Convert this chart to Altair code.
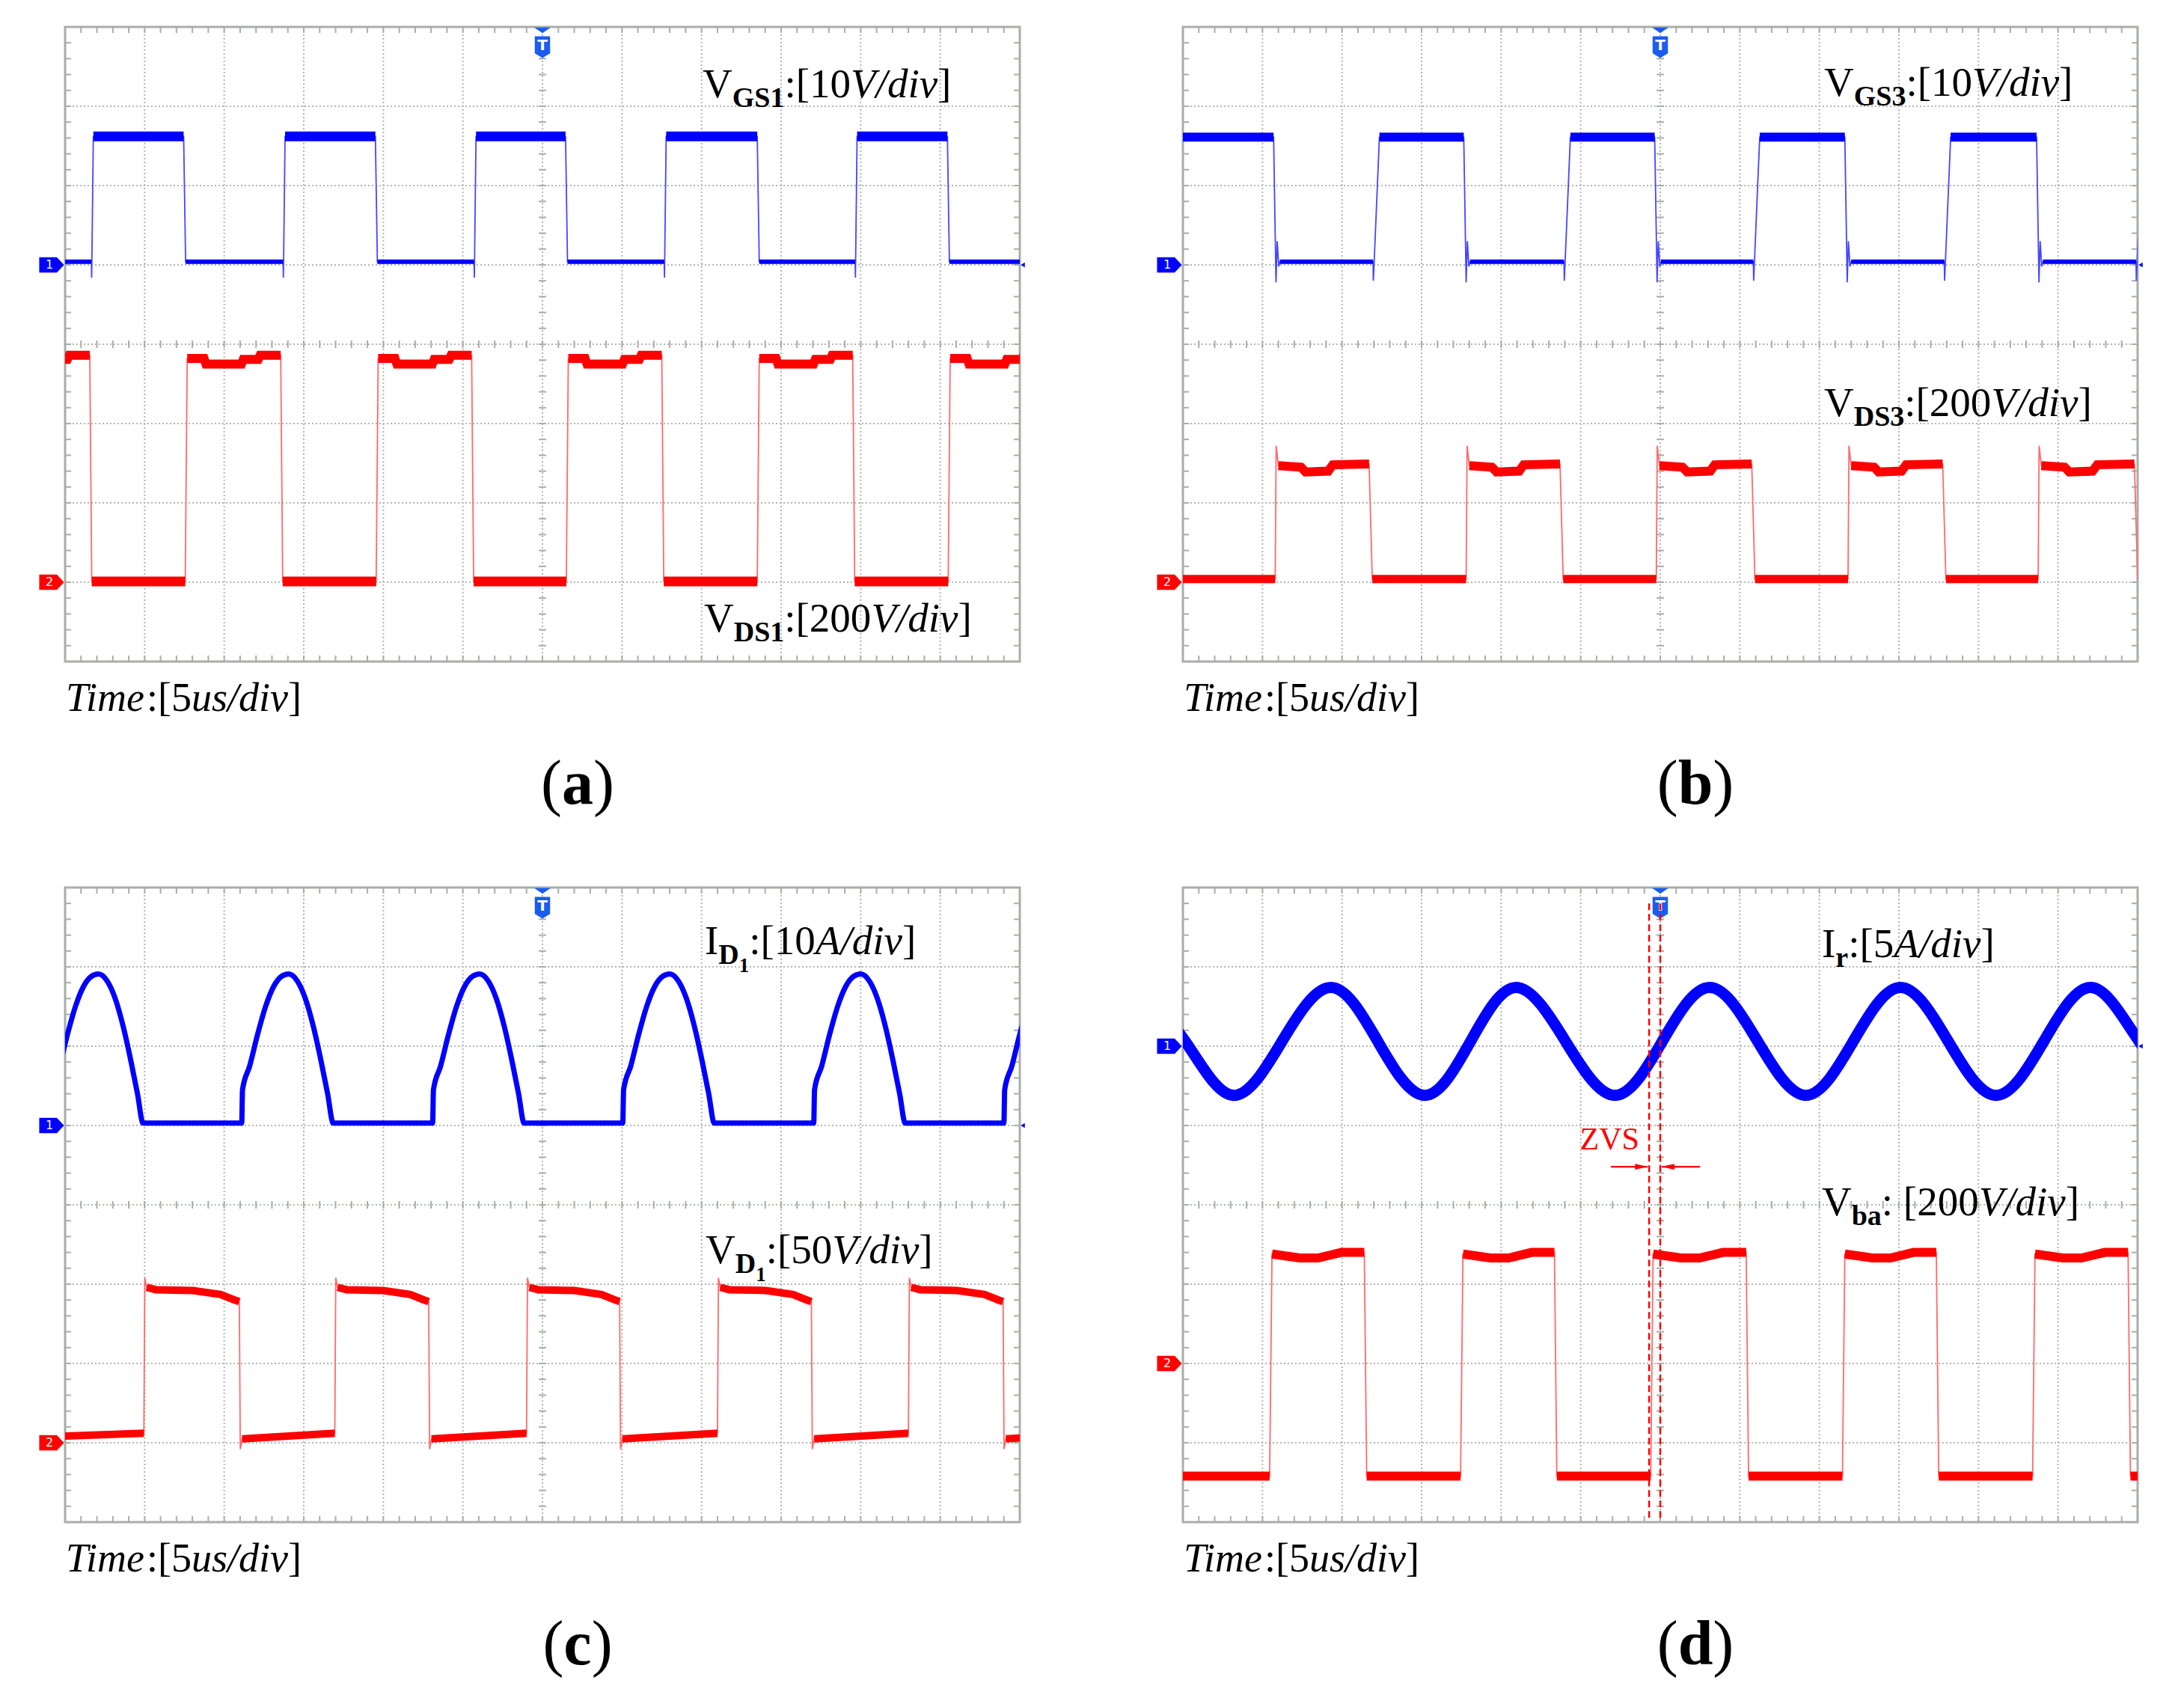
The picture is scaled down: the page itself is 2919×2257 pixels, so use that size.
import altair as alt
import numpy as np
import pandas as pd

W, H = 1276, 848
XMAX, YMAX = 12, 8
BLUE, RED = "#0000ff", "#ff0000"
BLUE_EDGE, RED_EDGE = "#4646ff", "#ff6a6a"
GRID, FRAME = "#b2b7b2", "#a8aea8"
SERIF = "Liberation Serif"

# ---------------- values (units: divisions, x 0-12, y 0-8) ----
# panel (a)
a_gs_rise = [0.33, 2.74, 5.14, 7.53, 9.93]
a_gs_fall = [1.49, 3.90, 6.29, 8.70, 11.09]
a_gs_levels = [5.04, 6.62]
a_gs_rise_spike = [4.84]
a_ds_rise = [-0.89, 1.51, 3.91, 6.30, 8.70, 11.10]
a_ds_fall = [0.31, 2.71, 5.11, 7.50, 9.90, 12.31]
a_ds_levels = [1.01, 3.82]
a_ds_high_frac = [0.0, 0.18, 0.20, 0.58, 0.60, 0.76, 0.78, 1.0]
a_ds_high_val = [3.82, 3.82, 3.75, 3.75, 3.81, 3.81, 3.86, 3.86]
a_ch_ground = [5, 1]

# panel (b)
b_gs_rise = [-1.20, 2.39, 4.79, 7.17, 9.57, 11.98]
b_gs_fall = [1.14, 3.53, 5.93, 8.32, 10.73]
b_gs_levels = [5.04, 6.61]
b_gs_fall_ring = [4.78, 5.30, 4.98]
b_gs_rise_spike = [4.80]
b_ds_rise = [1.16, 3.56, 5.95, 8.36, 10.75]
b_ds_fall = [2.34, 4.74, 7.15, 9.55, 11.96]
b_ds_levels = [1.04, 2.46]
b_ds_rise_spike = [2.72]
b_ds_high_frac = [0.0, 0.25, 0.30, 0.55, 0.60, 1.0]
b_ds_high_val = [2.47, 2.45, 2.39, 2.40, 2.48, 2.49]
b_ch_ground = [5, 1]

# panel (c)
c_id_rise = [-0.17, 2.22, 4.62, 7.01, 9.41, 11.80]
c_id_pulse_dt = [0.0, 0.01, 0.10, 0.20, 0.30, 0.40, 0.50, 0.59, 0.70, 0.80, 0.90, 1.00, 1.08, 1.15]
c_id_pulse_v = [5.03, 5.45, 5.75, 6.15, 6.50, 6.75, 6.88, 6.91, 6.82, 6.60, 6.25, 5.80, 5.40, 5.03]
c_id_low = 5.03
c_vd_rise = [0.99, 3.39, 5.80, 8.20, 10.60]
c_vd_fall = [2.19, 4.57, 6.97, 9.38, 11.79]
c_vd_levels = [1.07, 2.90]
c_vd_rise_spike = [3.08]
c_vd_fall_spike = [0.92]
c_vd_high_frac = [0.0, 0.10, 0.50, 0.80, 0.95, 1.0]
c_vd_high_val = [2.96, 2.93, 2.92, 2.87, 2.80, 2.78]
c_vd_low_frac = [0.0, 1.0]
c_vd_low_val = [1.05, 1.12]
c_ch_ground = [5, 1]

# panel (d)
d_ir_t = [-0.57, 0.03, 0.63, 1.245, 1.86, 2.45, 3.04, 3.615, 4.19, 4.81, 5.43, 6.025,
          6.62, 7.225, 7.83, 8.425, 9.02, 9.62, 10.22, 10.82, 11.42, 12.02, 12.62]
d_ir_v = [6.74, 6.06, 5.38, 6.06, 6.74, 6.06, 5.38, 6.06, 6.74, 6.06, 5.38, 6.06,
          6.74, 6.06, 5.38, 6.06, 6.74, 6.06, 5.38, 6.06, 6.74, 6.06, 5.38]
d_ba_rise = [1.09, 3.49, 5.88, 8.29, 10.68]
d_ba_fall = [2.28, 4.67, 7.08, 9.47, 11.88]
d_ba_levels = [0.58, 3.38]
d_ba_high_frac = [0.0, 0.30, 0.50, 0.75, 1.0]
d_ba_high_val = [3.38, 3.33, 3.33, 3.40, 3.40]
d_ch_ground = [6, 2]
d_zvs_x = [5.86, 6.0]
d_zvs_span = [7.8, 0.05]
d_arrow_right = [5.38, 5.84]
d_arrow_left = [6.50, 6.02]
d_arrow_y = 4.48
d_zvs_text_xy = [4.99, 4.70]

trigger_x = 6

# ---------------- helpers ----------------
XS = alt.Scale(domain=[0, XMAX], nice=False, zero=False)
YS = alt.Scale(domain=[0, YMAX], nice=False, zero=False)
DUMMY = pd.DataFrame({"k": [0]})


def X(f="x"):
    return alt.X(f"{f}:Q", scale=XS, axis=None)


def Y(f="y"):
    return alt.Y(f"{f}:Q", scale=YS, axis=None)


def square(rise, fall, levels, edge=0.025, hi=None, lo=None,
           on_rise=(), on_fall=(), widths=(8, 8)):
    ev = sorted([(t, "r") for t in rise] + [(t, "f") for t in fall])
    segs = [(-1.0, ev[0][0], "lo" if ev[0][1] == "r" else "hi")]
    for i, (t, k) in enumerate(ev):
        end = ev[i + 1][0] if i + 1 < len(ev) else XMAX + 1
        segs.append((t + edge, end, "hi" if k == "r" else "lo"))
    trace, plat = [], []
    for j, (t0, t1, st) in enumerate(segs):
        prof = hi if st == "hi" else lo
        base = levels[1] if st == "hi" else levels[0]
        w = widths[1] if st == "hi" else widths[0]
        if prof is None:
            pts = [(t0, base), (t1, base)]
        else:
            pts = [(t0 + f * (t1 - t0), v) for f, v in zip(*prof)]
        for p in pts:
            plat.append((p[0], p[1], j, w))
        trace.extend(pts)
        if j < len(ev):
            t, k = ev[j]
            extra = on_rise if k == "r" else on_fall
            trace.extend((t + dt, v) for dt, v in extra)
    tdf = pd.DataFrame(trace, columns=["x", "y"])
    tdf["i"] = range(len(tdf))
    pdf = pd.DataFrame(plat, columns=["x", "y", "seg", "w"])
    pdf["i"] = range(len(pdf))
    return tdf, pdf


def trace_layers(tdf, pdf, color, edge_color):
    thin = alt.Chart(tdf).mark_line(color=edge_color, strokeWidth=1.8, clip=True).encode(
        x=X(), y=Y(), order="i:Q")
    thick = alt.Chart(pdf).mark_line(color=color, clip=True, strokeCap="butt").encode(
        x=X(), y=Y(), detail="seg:N", order="i:Q",
        strokeWidth=alt.StrokeWidth("w:Q", scale=None, legend=None))
    return [thin, thick]


def grid_layers():
    vx = pd.DataFrame({"x": list(range(1, XMAX))})
    hy = pd.DataFrame({"y": list(range(1, YMAX))})
    mx = pd.DataFrame({"x": np.round(np.arange(0.2, XMAX - 0.1, 0.2), 1)})
    my = pd.DataFrame({"y": np.round(np.arange(0.2, YMAX - 0.1, 0.2), 1)})
    dash = dict(color=GRID, strokeWidth=2, strokeDash=[2, 3])
    tick = dict(color=FRAME, strokeWidth=2)
    return [
        alt.Chart(vx).mark_rule(**dash).encode(x=X(), y=alt.value(0), y2=alt.value(H)),
        alt.Chart(hy).mark_rule(**dash).encode(y=Y(), x=alt.value(0), x2=alt.value(W)),
        alt.Chart(mx).mark_rule(**tick).encode(x=X(), y=alt.value(0), y2=alt.value(8)),
        alt.Chart(mx).mark_rule(**tick).encode(x=X(), y=alt.value(H - 8), y2=alt.value(H)),
        alt.Chart(my).mark_rule(**tick).encode(y=Y(), x=alt.value(0), x2=alt.value(8)),
        alt.Chart(my).mark_rule(**tick).encode(y=Y(), x=alt.value(W - 8), x2=alt.value(W)),
        alt.Chart(my).mark_rule(**tick).encode(y=Y(), x=alt.value(W / 2 - 5), x2=alt.value(W / 2 + 5)),
        alt.Chart(mx).mark_rule(**tick).encode(x=X(), y=alt.value(H / 2 - 5), y2=alt.value(H / 2 + 5)),
    ]


PENT_R = "M-1,-0.62L0.42,-0.62L1,0L0.42,0.62L-1,0.62Z"
TRIG_BOX = "M-1,-1.42L1,-1.42L1,0.8L0,1.42L-1,0.8Z"
TRIG_TRI = "M-1,-0.35L1,-0.35L0,0.35Z"
ARROW_R = "M-1,-0.45L1,0L-1,0.45Z"
ARROW_L = "M1,-0.45L-1,0L1,0.45Z"


def marker_layers(ground):
    df = pd.DataFrame({"y": ground, "c": ["1", "2"], "col": [BLUE, RED]})
    tdf = pd.DataFrame({"x": [trigger_x]})
    return [
        alt.Chart(df).mark_point(shape=PENT_R, filled=True, size=1100, opacity=1, strokeWidth=0).encode(
            x=alt.value(-18), y=Y(), color=alt.Color("col:N", scale=None, legend=None)),
        alt.Chart(df).mark_text(color="white", fontSize=16, font="DejaVu Sans", baseline="middle").encode(
            x=alt.value(-21), y=Y(), text="c:N"),
        alt.Chart(df.iloc[:1]).mark_point(shape="triangle-left", filled=True, size=40, opacity=1,
                                          color=BLUE, strokeWidth=0).encode(x=alt.value(W + 4), y=Y()),
        alt.Chart(tdf).mark_point(shape=TRIG_TRI, filled=True, size=480, opacity=1, color="#1a5cf0",
                                  strokeWidth=0).encode(x=X(), y=alt.value(4.5)),
        alt.Chart(tdf).mark_point(shape=TRIG_BOX, filled=True, size=420, opacity=1, color="#1a5cf0",
                                  strokeWidth=0).encode(x=X(), y=alt.value(27)),
        alt.Chart(tdf).mark_text(text="T", color="white", fontSize=20, font="DejaVu Sans",
                                 fontWeight="bold", baseline="middle").encode(x=X(), y=alt.value(25)),
    ]


REG = {"V": .722, "I": .333, ":": .278, "[": .333, "]": .333, " ": .25, "(": .333, ")": .333,
       "0": .5, "1": .5, "2": .5, "5": .5}
ITA = {"V": .611, "A": .611, "/": .278, "d": .5, "i": .278, "v": .444, "T": .556, "m": .722,
       "e": .444, "u": .5, "s": .389}
BOLD = {"G": .778, "S": .556, "D": .722, "1": .5, "3": .5, "b": .556, "a": .5, "r": .444,
        "c": .444, "d": .556}


def rich(pieces, x0, base, size=55, color="black", center=False):
    styles = {
        "r": (REG, size, "normal", "normal", 0),
        "i": (ITA, size, "italic", "normal", 0),
        "b": (BOLD, size, "normal", "bold", 0),
        "sub": (BOLD, 38, "normal", "bold", 13),
        "subsub": (BOLD, 27, "normal", "bold", 24),
    }
    widths = [sum(styles[k][0].get(ch, .5) for ch in s) * styles[k][1] for s, k in pieces]
    x = x0 - sum(widths) / 2 if center else x0
    out = []
    for (s, k), w in zip(pieces, widths):
        tab, fs, fst, fw, dy = styles[k]
        out.append(alt.Chart(DUMMY).mark_text(
            text=s, font=SERIF, fontSize=fs, fontStyle=fst, fontWeight=fw,
            align="left", baseline="alphabetic", color=color).encode(
            x=alt.value(x), y=alt.value(base + dy)))
        x += w
    return out


def footer(letter):
    t = rich([("Time", "i"), (":[5", "r"), ("us/div", "i"), ("]", "r")], 1, H + 66, size=54)
    c = rich([("(", "r"), (letter, "b"), (")", "r")], 685, H + 190, size=84, center=True)
    return t + c


def panel(layers):
    return alt.layer(*layers).properties(width=W, height=H)


# ---------------- panel (a) ----------------
a_gs = square(a_gs_rise, a_gs_fall, a_gs_levels, on_rise=[(0.004, a_gs_rise_spike[0])], widths=(6, 13))
a_ds = square(a_ds_rise, a_ds_fall, a_ds_levels, hi=(a_ds_high_frac, a_ds_high_val), widths=(13, 12))
pa = panel(grid_layers()
           + trace_layers(*a_gs, BLUE, BLUE_EDGE) + trace_layers(*a_ds, RED, RED_EDGE)
           + rich([("V", "r"), ("GS1", "sub"), (":[10", "r"), ("V/div", "i"), ("]", "r")], 852, 94)
           + rich([("V", "r"), ("DS1", "sub"), (":[200", "r"), ("V/div", "i"), ("]", "r")], 854, 808)
           + marker_layers(a_ch_ground) + footer("a"))

# ---------------- panel (b) ----------------
b_gs = square(b_gs_rise, b_gs_fall, b_gs_levels,
              on_rise=[(0.004, b_gs_rise_spike[0])],
              on_fall=[(0.03, b_gs_fall_ring[0]), (0.045, b_gs_fall_ring[1]), (0.065, b_gs_fall_ring[2])],
              edge=0.08, widths=(6, 12))
b_ds = square(b_ds_rise, b_ds_fall, b_ds_levels, hi=(b_ds_high_frac, b_ds_high_val),
              on_rise=[(0.012, b_ds_rise_spike[0])], edge=0.04, widths=(11, 12))
pb = panel(grid_layers()
           + trace_layers(*b_gs, BLUE, BLUE_EDGE) + trace_layers(*b_ds, RED, RED_EDGE)
           + rich([("V", "r"), ("GS3", "sub"), (":[10", "r"), ("V/div", "i"), ("]", "r")], 857, 92)
           + rich([("V", "r"), ("DS3", "sub"), (":[200", "r"), ("V/div", "i"), ("]", "r")], 857, 520)
           + marker_layers(b_ch_ground) + footer("b"))

# ---------------- panel (c) ----------------
pts = [(-1.0, c_id_low)]
for r in c_id_rise:
    pts += [(r + d, v) for d, v in zip(c_id_pulse_dt, c_id_pulse_v)]
pts.append((XMAX + 1, c_id_low))
c_id = pd.DataFrame(pts, columns=["x", "y"])
c_id["i"] = range(len(c_id))
c_vd = square(c_vd_rise, c_vd_fall, c_vd_levels, hi=(c_vd_high_frac, c_vd_high_val),
              lo=(c_vd_low_frac, c_vd_low_val), on_rise=[(0.012, c_vd_rise_spike[0])],
              on_fall=[(0.012, c_vd_fall_spike[0])], edge=0.035, widths=(10, 10))
c_id_line = alt.Chart(c_id).mark_line(color=BLUE, strokeWidth=7, clip=True, interpolate="monotone").encode(
    x=X(), y=Y(), order="i:Q")
pc = panel(grid_layers()
           + [c_id_line] + trace_layers(*c_vd, RED, RED_EDGE)
           + rich([("I", "r"), ("D", "sub"), ("1", "subsub"), (":[10", "r"), ("A/div", "i"), ("]", "r")], 855, 89)
           + rich([("V", "r"), ("D", "sub"), ("1", "subsub"), (":[50", "r"), ("V/div", "i"), ("]", "r")], 856, 502)
           + marker_layers(c_ch_ground) + footer("c"))

# ---------------- panel (d) ----------------
d_ir = pd.DataFrame({"x": d_ir_t, "y": d_ir_v})
d_ir["i"] = range(len(d_ir))
d_ba = square(d_ba_rise, d_ba_fall, d_ba_levels, hi=(d_ba_high_frac, d_ba_high_val),
              edge=0.03, widths=(12, 12))
d_ir_line = alt.Chart(d_ir).mark_line(color=BLUE, strokeWidth=15, clip=True, interpolate="natural").encode(
    x=X(), y=Y(), order="i:Q")
zvs = pd.DataFrame({"x": d_zvs_x, "y": [d_zvs_span[0]] * 2, "y2": [d_zvs_span[1]] * 2})
arr = pd.DataFrame({"x": [d_arrow_right[0], d_arrow_left[0]], "x2": [d_arrow_right[1], d_arrow_left[1]],
                    "y": [d_arrow_y, d_arrow_y]})
head_r = pd.DataFrame({"x": [d_arrow_right[1]], "y": [d_arrow_y]})
head_l = pd.DataFrame({"x": [d_arrow_left[1]], "y": [d_arrow_y]})
zt = pd.DataFrame({"x": [d_zvs_text_xy[0]], "y": [d_zvs_text_xy[1]], "t": ["ZVS"]})
zvs_layers = [
    alt.Chart(zvs).mark_rule(color=RED, strokeWidth=2.5, strokeDash=[9, 5]).encode(x=X(), y=Y(), y2="y2:Q"),
    alt.Chart(arr).mark_rule(color=RED, strokeWidth=2.2).encode(x=X(), x2="x2:Q", y=Y()),
    alt.Chart(head_r).mark_point(shape=ARROW_R, filled=True, size=300, opacity=1, color=RED,
                                 strokeWidth=0, xOffset=-8).encode(x=X(), y=Y()),
    alt.Chart(head_l).mark_point(shape=ARROW_L, filled=True, size=300, opacity=1, color=RED,
                                 strokeWidth=0, xOffset=8).encode(x=X(), y=Y()),
    alt.Chart(zt).mark_text(font=SERIF, fontSize=42, color=RED, align="left", baseline="alphabetic").encode(
        x=X(), y=Y(), text="t:N"),
]
pdd = panel(grid_layers()
            + [d_ir_line] + trace_layers(*d_ba, RED, RED_EDGE)
            + rich([("I", "r"), ("r", "sub"), (":[5", "r"), ("A/div", "i"), ("]", "r")], 854, 93)
            + rich([("V", "r"), ("ba", "sub"), (": [200", "r"), ("V/div", "i"), ("]", "r")], 854, 438)
            + marker_layers(d_ch_ground) + zvs_layers + footer("d"))

chart = alt.concat(pa, pb, pc, pdd, columns=2, spacing={"row": 302, "column": 218},
                   bounds="flush").properties(
    padding={"left": 42, "top": 25, "right": 5, "bottom": 5}
).configure_view(stroke=FRAME, strokeWidth=3)

chart.save("out.html", embed_options={"renderer": "svg", "actions": False})
